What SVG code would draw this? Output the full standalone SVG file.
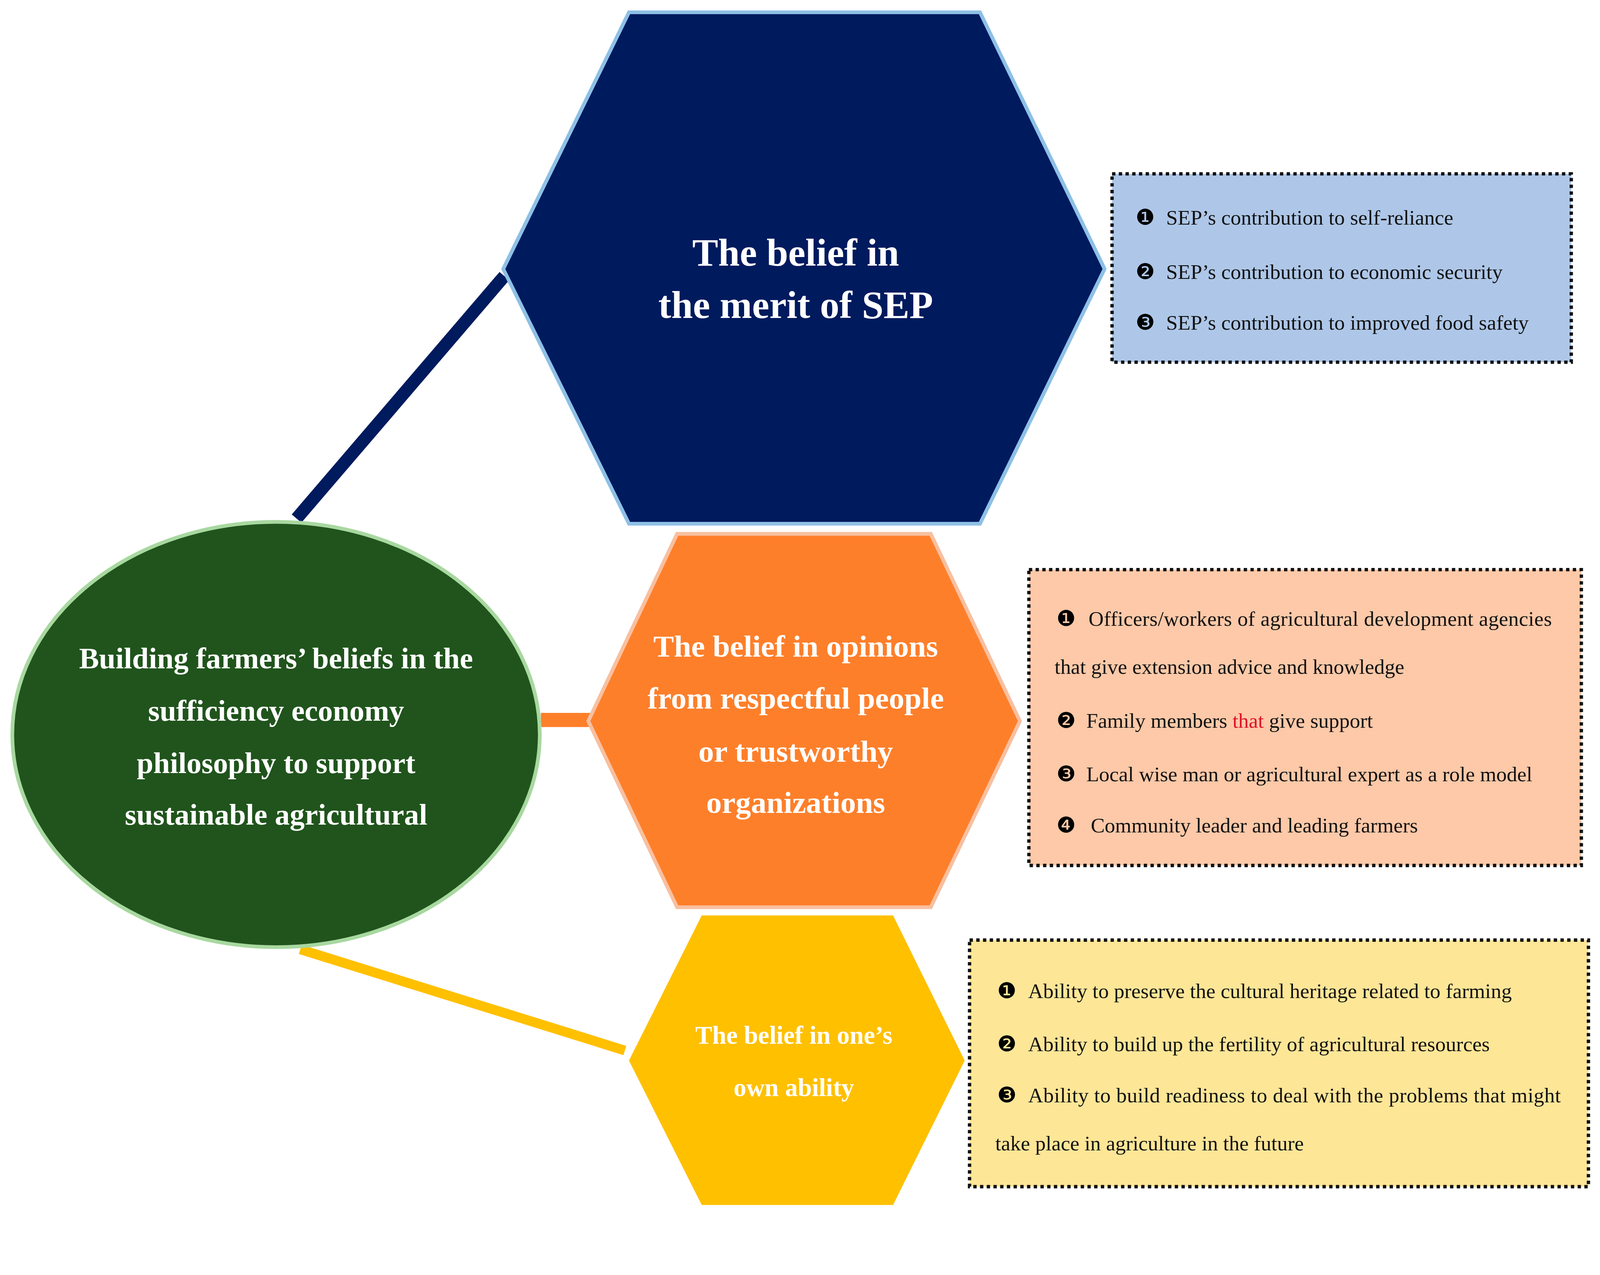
<svg xmlns="http://www.w3.org/2000/svg" width="4299" height="3264" viewBox="0 0 4299 3264">
<style>
.t{font-family:"Liberation Serif","DejaVu Serif",serif;font-weight:bold;fill:#fff;text-anchor:middle}
.b{font-family:"Liberation Serif","DejaVu Serif",serif;fill:#111;font-size:56px}
.n{font-family:"DejaVu Sans",sans-serif;font-size:58px;fill:#000}
.box{stroke:#111;stroke-width:9;stroke-dasharray:9 9}
</style>
<rect width="4299" height="3264" fill="#fff"/>
<g transform="scale(0.955)">
<g id="connectors">
<line x1="795" y1="1390" x2="1352" y2="740" stroke="#001a5e" stroke-width="34"/>
<line x1="1450" y1="1930" x2="1585" y2="1930" stroke="#fe7f2a" stroke-width="38"/>
<line x1="805" y1="2545" x2="1675" y2="2816" stroke="#ffc000" stroke-width="26"/>
</g>
<g id="center">
<ellipse cx="740" cy="1969" rx="707" ry="570" fill="#20541c" stroke="#a8d8a0" stroke-width="10"/>
<text class="t" font-size="80"><tspan x="740" y="1792">Building farmers’ beliefs in the</tspan><tspan x="740" y="1932">sufficiency economy</tspan><tspan x="740" y="2072">philosophy to support</tspan><tspan x="740" y="2211">sustainable agricultural</tspan></text>
</g>
<g id="merit">
<polygon points="1686,33 2627,33 2961,721 2627,1404 1686,1404 1349,721" fill="#001a5e" stroke="#8ec0e6" stroke-width="10"/>
<text class="t" font-size="104"><tspan x="2133" y="712">The belief in</tspan><tspan x="2133" y="852">the merit of SEP</tspan></text>
</g>
<g id="opinions">
<polygon points="1815,1431 2495,1431 2734,1933 2495,2432 1815,2432 1577,1933" fill="#fe7f2a" stroke="#f8c0a0" stroke-width="10"/>
<text class="t" font-size="83"><tspan x="2133" y="1760">The belief in opinions</tspan><tspan x="2133" y="1900">from respectful people</tspan><tspan x="2133" y="2042">or trustworthy</tspan><tspan x="2133" y="2179">organizations</tspan></text>
</g>
<g id="ability">
<polygon points="1881,2454 2394,2454 2586,2843 2394,3230 1881,3230 1686,2843" fill="#ffc000"/>
<text class="t" font-size="68"><tspan x="2128" y="2798">The belief in one’s</tspan><tspan x="2128" y="2938">own ability</tspan></text>
</g>
<g id="box-merit">
<rect class="box" x="2981" y="466" width="1231" height="505" fill="#aec7e8"/>
<text class="n" x="3044" y="602">❶</text><text class="b" x="3126" y="602">SEP’s contribution to self-reliance</text>
<text class="n" x="3044" y="748">❷</text><text class="b" x="3126" y="748">SEP’s contribution to economic security</text>
<text class="n" x="3044" y="884">❸</text><text class="b" x="3126" y="884">SEP’s contribution to improved food safety</text>
</g>
<g id="box-opinions">
<rect class="box" x="2758" y="1527" width="1481" height="793" fill="#fdc9a8"/>
<text class="n" x="2832" y="1677">❶</text><text class="b" x="2918" y="1677" textLength="1242" lengthAdjust="spacing">Officers/workers of agricultural development agencies</text>
<text class="b" x="2827" y="1806">that give extension advice and knowledge</text>
<text class="n" x="2832" y="1951">❷</text><text class="b" x="2912" y="1951">Family members <tspan fill="#e0102a">that</tspan> give support</text>
<text class="n" x="2832" y="2094">❸</text><text class="b" x="2912" y="2094">Local wise man or agricultural expert as a role model</text>
<text class="n" x="2832" y="2231">❹</text><text class="b" x="2924" y="2231">Community leader and leading farmers</text>
</g>
<g id="box-ability">
<rect class="box" x="2599" y="2520" width="1659" height="661" fill="#fee697"/>
<text class="n" x="2673" y="2675">❶</text><text class="b" x="2756" y="2675">Ability to preserve the cultural heritage related to farming</text>
<text class="n" x="2673" y="2818">❷</text><text class="b" x="2756" y="2818">Ability to build up the fertility of agricultural resources</text>
<text class="n" x="2673" y="2955">❸</text><text class="b" x="2756" y="2955" textLength="1428" lengthAdjust="spacing">Ability to build readiness to deal with the problems that might</text>
<text class="b" x="2668" y="3084">take place in agriculture in the future</text>
</g>
</g>
</svg>
